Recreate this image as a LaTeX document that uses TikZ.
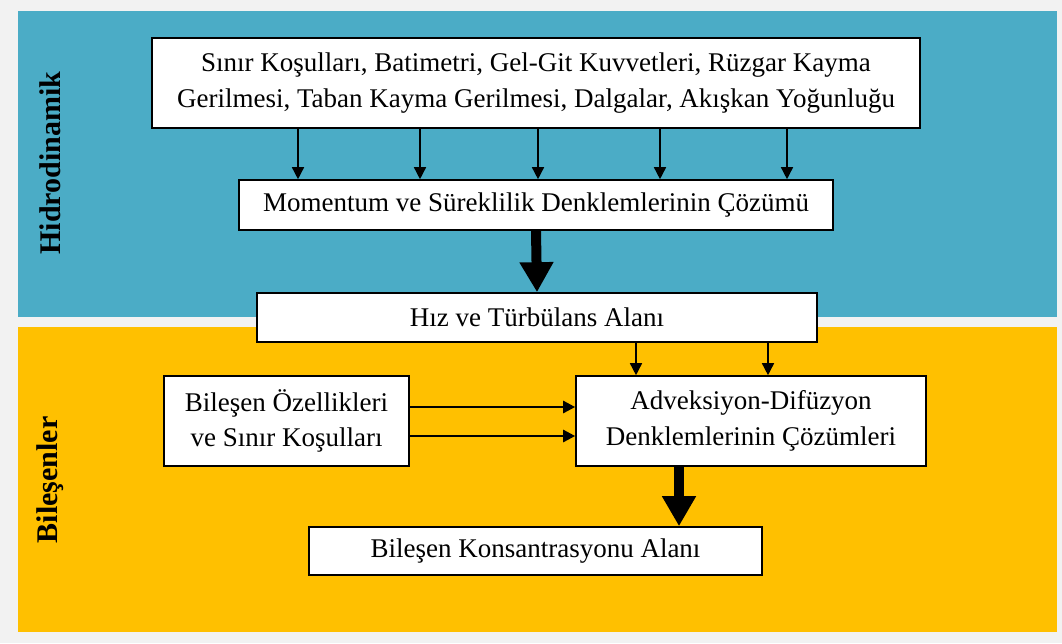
\documentclass[tikz,border=0pt]{standalone}
\usepackage{fontspec}
\setmainfont{Liberation Serif}
\usetikzlibrary{arrows.meta}
\definecolor{pagegray}{HTML}{F2F2F2}
\definecolor{hidroblue}{HTML}{4BACC6}
\definecolor{bilesenyellow}{HTML}{FFC000}

\begin{document}
\begin{tikzpicture}[x=1pt,y=-1pt,
  box/.style={draw, line width=1.6pt, fill=white, inner sep=0pt, align=center, font=\fontsize{27}{35.5}\selectfont},
  sidelabel/.style={rotate=90, inner sep=0pt, font=\fontsize{30}{36}\selectfont\bfseries},
  thinarrow/.style={line width=1.5pt, -{Triangle[width=12pt,length=12pt]}},
  thickarrow/.style={line width=10pt, -{Triangle[width=32pt,length=30pt]}}]
\fill [pagegray] (0,0) rectangle (1062,643);
\fill [hidroblue] (18,11) rectangle (1057,317);
\fill [bilesenyellow] (18,327) rectangle (1057,632);
\node [sidelabel] (hidrolabel) at (50,163) {Hidrodinamik};
\node [sidelabel] (bilesenlabel) at (50,480) {Bileşenler};
\node [box, minimum width=768, minimum height=90] (kosullar) at (536,83) {Sınır Koşulları, Batimetri, Gel-Git Kuvvetleri, Rüzgar Kayma\\Gerilmesi, Taban Kayma Gerilmesi, Dalgalar, Akışkan Yoğunluğu};
\node [box, minimum width=594, minimum height=50] (momentum) at (536,205) {Momentum ve Süreklilik Denklemlerinin Çözümü};
\node [box, minimum width=560, minimum height=49] (hizalani) at (537,317.5) {Hız ve Türbülans Alanı};
\node [box, minimum width=245, minimum height=90] (ozellikler) at (286.5,421) {Bileşen Özellikleri\\ve Sınır Koşulları};
\node [box, minimum width=350, minimum height=90] (adveksiyon) at (751,421) {Adveksiyon-Difüzyon\\Denklemlerinin Çözümleri};
\node [box, minimum width=453, minimum height=48] (konsantrasyon) at (535.5,551) {Bileşen Konsantrasyonu Alanı};
\foreach \xx in {298,420,538,660,787}
  \draw [thinarrow] (\xx,0 |- kosullar.south) -- (\xx,0 |- momentum.north);
\draw [thickarrow] (momentum.south) -- (hizalani.north);
\draw [thinarrow] (636,0 |- hizalani.south) -- (636,0 |- adveksiyon.north);
\draw [thinarrow] (768,0 |- hizalani.south) -- (768,0 |- adveksiyon.north);
\draw [thinarrow, line width=2.5pt] (ozellikler.east |- 0,407) -- (adveksiyon.west |- 0,407);
\draw [thinarrow, line width=2.5pt] (ozellikler.east |- 0,436) -- (adveksiyon.west |- 0,436);
\draw [thickarrow] (679,0 |- adveksiyon.south) -- (679,0 |- konsantrasyon.north);
\end{tikzpicture}
\end{document}
